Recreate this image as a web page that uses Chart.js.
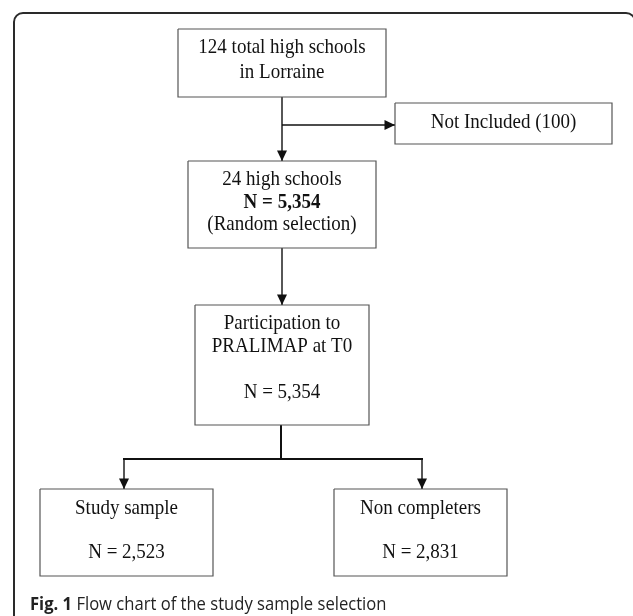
<!DOCTYPE html>
<html>
<head>
<meta charset="utf-8">
<script src="https://cdn.jsdelivr.net/npm/chart.js@4.4.1/dist/chart.umd.min.js"></script>
<style>
  html, body { margin: 0; padding: 0; background: #fff; }
  #wrap { width: 633px; height: 616px; position: relative; }
</style>
</head>
<body>
<div id="wrap"><canvas id="flow"></canvas></div>
<script>
// Données du diagramme
const schoolCounts = [124, 100, 24];          // total, non inclus, tirés au sort
const pupilCounts = [5354, 5354, 2523, 2831]; // sélection, T0, échantillon, non complétés
const captionLabel = 'Fig. 1';
const captionText = 'Flow chart of the study sample selection';

const fmt = n => n.toLocaleString('en-US');

// Texte de chaque boîte (une ligne par entrée, '' = ligne vide, {b:...} = gras)
const nodeText = [
    [`${schoolCounts[0]} total high schools`, 'in Lorraine'],
    [`Not Included (${schoolCounts[1]})`],
    [`${schoolCounts[2]} high schools`, { b: `N = ${fmt(pupilCounts[0])}` }, '(Random selection)'],
    ['Participation to', 'PRALIMAP at T0', '', `N = ${fmt(pupilCounts[1])}`],
    ['Study sample', '', `N = ${fmt(pupilCounts[2])}`],
    ['Non completers', '', `N = ${fmt(pupilCounts[3])}`]
];

// Mise en page (unités des axes = pixels)
const boxes = [
    { x0: 178, x1: 386, y0: 29, y1: 97, top: 48, lh: 25 },
    { x0: 395, x1: 612, y0: 103, y1: 144, top: 123, lh: 22 },
    { x0: 188, x1: 376, y0: 161, y1: 248, top: 180, lh: 22.5 },
    { x0: 195, x1: 369, y0: 305, y1: 425, top: 324, lh: 23 },
    { x0: 40, x1: 213, y0: 489, y1: 576, top: 509, lh: 22 },
    { x0: 334, x1: 507, y0: 489, y1: 576, top: 509, lh: 22 }
];

const connectors = [
    { pts: [[282, 97], [282, 161]], arrow: true, w: 1.4 },
    { pts: [[282, 125], [395, 125]], arrow: true, w: 1.4 },
    { pts: [[282, 248], [282, 305]], arrow: true, w: 1.4 },
    { pts: [[281, 425], [281, 459]], arrow: false, w: 2 },
    { pts: [[123, 459], [423, 459]], arrow: false, w: 2.2 },
    { pts: [[124, 459], [124, 489]], arrow: true, w: 1.4 },
    { pts: [[422, 459], [422, 489]], arrow: true, w: 1.4 }
];

const datasets = [];

boxes.forEach(b => {
    datasets.push({
        data: [
            { x: b.x0, y: b.y0 }, { x: b.x1, y: b.y0 },
            { x: b.x1, y: b.y1 }, { x: b.x0, y: b.y1 }, { x: b.x0, y: b.y0 }
        ],
        showLine: true,
        borderColor: '#555',
        borderWidth: 1.2,
        pointRadius: 0,
        fill: false,
        clip: false
    });
});

connectors.forEach(c => {
    datasets.push({
        data: c.pts.map(p => ({ x: p[0], y: p[1] })),
        showLine: true,
        borderColor: '#111',
        borderWidth: c.w,
        pointRadius: 0,
        fill: false,
        clip: false
    });
});

const flowPlugin = {
    id: 'flowPlugin',
    beforeDraw(chart) {
        const { ctx, scales: { x, y } } = chart;
        ctx.save();
        ctx.fillStyle = '#fff';
        ctx.fillRect(0, 0, chart.width, chart.height);

        // cadre arrondi
        const l = x.getPixelForValue(14), t = y.getPixelForValue(13);
        const r = x.getPixelForValue(635), bt = y.getPixelForValue(640);
        ctx.beginPath();
        ctx.roundRect(l, t, r - l, bt - t, 9);
        ctx.lineWidth = 2;
        ctx.strokeStyle = '#2a2a2a';
        ctx.stroke();
        ctx.restore();
    },
    afterDatasetsDraw(chart) {
        const { ctx, scales: { x, y } } = chart;
        ctx.save();

        // pointes de flèches
        ctx.fillStyle = '#111';
        connectors.filter(c => c.arrow).forEach(c => {
            const a = c.pts[c.pts.length - 2], e = c.pts[c.pts.length - 1];
            const ex = x.getPixelForValue(e[0]), ey = y.getPixelForValue(e[1]);
            const ang = Math.atan2(ey - y.getPixelForValue(a[1]), ex - x.getPixelForValue(a[0]));
            const len = 10.5, half = 5;
            ctx.beginPath();
            ctx.moveTo(ex, ey);
            ctx.lineTo(ex - len * Math.cos(ang) + half * Math.sin(ang), ey - len * Math.sin(ang) - half * Math.cos(ang));
            ctx.lineTo(ex - len * Math.cos(ang) - half * Math.sin(ang), ey - len * Math.sin(ang) + half * Math.cos(ang));
            ctx.closePath();
            ctx.fill();
        });

        // textes des boîtes (légèrement étirés en hauteur comme l'original)
        ctx.fillStyle = '#111';
        ctx.textAlign = 'center';
        ctx.textBaseline = 'middle';
        nodeText.forEach((lines, i) => {
            const b = boxes[i];
            const cx = x.getPixelForValue((b.x0 + b.x1) / 2);
            lines.forEach((ln, j) => {
                if (ln === '') return;
                const bold = typeof ln === 'object';
                const cy = y.getPixelForValue(b.top + j * b.lh);
                ctx.font = `${bold ? 'bold ' : ''}19px "Liberation Serif", "Times New Roman", serif`;
                ctx.save();
                ctx.translate(cx, cy);
                ctx.scale(1, 1.07);
                ctx.fillText(bold ? ln.b : ln, 0, 0);
                ctx.restore();
            });
        });

        // légende de la figure
        ctx.textAlign = 'left';
        ctx.textBaseline = 'alphabetic';
        const capX = x.getPixelForValue(30), capY = y.getPixelForValue(610);
        ctx.translate(capX, capY);
        ctx.scale(1, 1.1);
        ctx.fillStyle = '#222';
        ctx.font = 'bold 16.6px "Open Sans", sans-serif';
        ctx.fillText(captionLabel, 0, 0);
        const w = ctx.measureText(captionLabel + ' ').width;
        ctx.font = '16.6px "Open Sans", sans-serif';
        ctx.fillText(captionText, w, 0);
        ctx.restore();
    }
};

new Chart(document.getElementById('flow'), {
    type: 'scatter',
    data: { datasets },
    options: {
        responsive: true,
        maintainAspectRatio: false,
        animation: false,
        layout: { padding: 0 },
        scales: {
            x: { type: 'linear', min: 0, max: 633, display: false },
            y: { type: 'linear', min: 0, max: 616, reverse: true, display: false }
        },
        plugins: {
            legend: { display: false },
            tooltip: { enabled: false }
        },
        elements: { line: { tension: 0 } }
    },
    plugins: [flowPlugin]
});
</script>
</body>
</html>
